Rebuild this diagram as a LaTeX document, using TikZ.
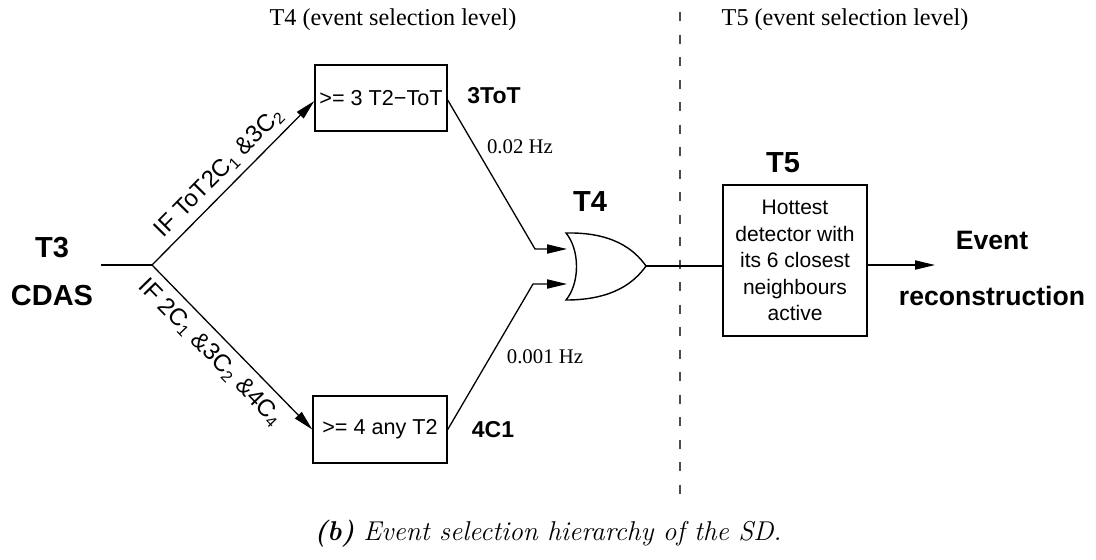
\documentclass[tikz,border=0pt]{standalone}
\usepackage{fontspec}
\newfontfamily\hv{Liberation Sans}
\newfontfamily\tms{Liberation Serif}
\usetikzlibrary{arrows.meta}

\begin{document}
\begin{tikzpicture}[x=0.5pt,y=-0.5pt,line width=0.65pt,
  tip/.style={-{Triangle[length=10pt,width=4.6pt]}},
  box/.style={draw,line width=0.7pt,inner sep=0pt,font=\hv\fontsize{10.8}{13}\selectfont},
  biglabel/.style={font=\hv\bfseries\fontsize{14.5}{17}\selectfont,inner sep=0pt},
  midlabel/.style={font=\hv\bfseries\fontsize{11.5}{14}\selectfont,inner sep=0pt},
  endlabel/.style={font=\hv\bfseries\fontsize{13.3}{16}\selectfont,inner sep=0pt},
  rate/.style={font=\tms\fontsize{10.4}{12}\selectfont,inner sep=0pt},
  level/.style={font=\tms\fontsize{12.1}{14}\selectfont,inner sep=0pt},
  cond/.style={font=\hv\fontsize{12}{14}\selectfont,sloped},
  gate/.style={draw,line width=0.7pt,fill=white},
  divider/.style={draw,line width=0.8pt,gray!60!black,dash pattern=on 4.5pt off 6.75pt}
]
\useasboundingbox (0,0) rectangle (1096,559);

% level headings and the dividing line
\node[level] (h4) at (393,20) {T4 (event selection level)};
\node[level] (h5) at (845,20) {T5 (event selection level)};
\coordinate (divtop) at (680,12);
\coordinate (divbot) at (680,504);
\path[divider] (divtop) -- (divbot);

% T3 source
\node[biglabel] (t3) at (52,248) {T3};
\node[biglabel] (cdas) at (52,296) {CDAS};
\coordinate (feed) at (101,265);
\coordinate (fork) at (152,265);
\draw (feed) -- (fork);

% T4 condition boxes
\node[box,minimum width=66pt,minimum height=33pt] (tot) at (381,98) {>= 3 T2\char"2212 ToT};
\node[box,minimum width=67pt,minimum height=33.5pt] (anyt) at (380,429.5) {>= 4 any T2};
\node[midlabel] (l3tot) at (494,96) {3ToT};
\node[midlabel] (l4c1) at (493,430) {4C1};

\draw[tip] (fork) -- node[cond,above,pos=0.49] {IF ToT2C\textsubscript{1} \&3C\textsubscript{2}} ([yshift=-1.5pt]tot.west);
\draw[tip] (fork) -- node[cond,below=1pt,pos=0.45] {IF 2C\textsubscript{1} \&3C\textsubscript{2} \&4C\textsubscript{4}} (anyt.west);

% OR gate
\coordinate (gtl) at (566,233);
\coordinate (gbl) at (566,300);
\coordinate (gout) at (646,266);
\coordinate (gin1) at (567,249);
\coordinate (gin2) at (567,284);
\path[gate] (gtl) .. controls (612,232) and (634,249) .. (gout)
  .. controls (634,283) and (612,300) .. (gbl)
  .. controls (580,283) and (580,250) .. (gtl) -- cycle;
\node[biglabel] (t4) at (590,202) {T4};

\coordinate (bend1) at (535,249);
\coordinate (bend2) at (533,284);
\draw[tip] ([yshift=-1pt]tot.east) -- (bend1) -- (gin1);
\draw[tip] (anyt.east) -- (bend2) -- (gin2);
\node[rate] (r1) at (520,147) {0.02 Hz};
\node[rate] (r2) at (545,357) {0.001 Hz};

% T5 stage
\node[box,align=center,font=\hv\fontsize{10.5}{13.25}\selectfont,minimum width=72pt,minimum height=75.5pt] (t5box) at (795,260.5)
  {Hottest\\detector with\\its 6 closest\\neighbours\\active};
\node[biglabel] (t5) at (783,163) {T5};
\draw (gout) -- (gout -| t5box.west);

\coordinate (recon) at (935,265);
\draw[tip] (t5box.east |- recon) -- (recon);
\node[endlabel] (ev) at (992,240) {Event};
\node[endlabel] (rc) at (992,296) {reconstruction};

% caption
\node[font=\fontsize{13.6}{16}\selectfont,inner sep=0pt] (cap) at (548,534)
  {\textbf{\textit{(b)}} \textit{Event selection hierarchy of the SD.}};
\end{tikzpicture}
\end{document}
